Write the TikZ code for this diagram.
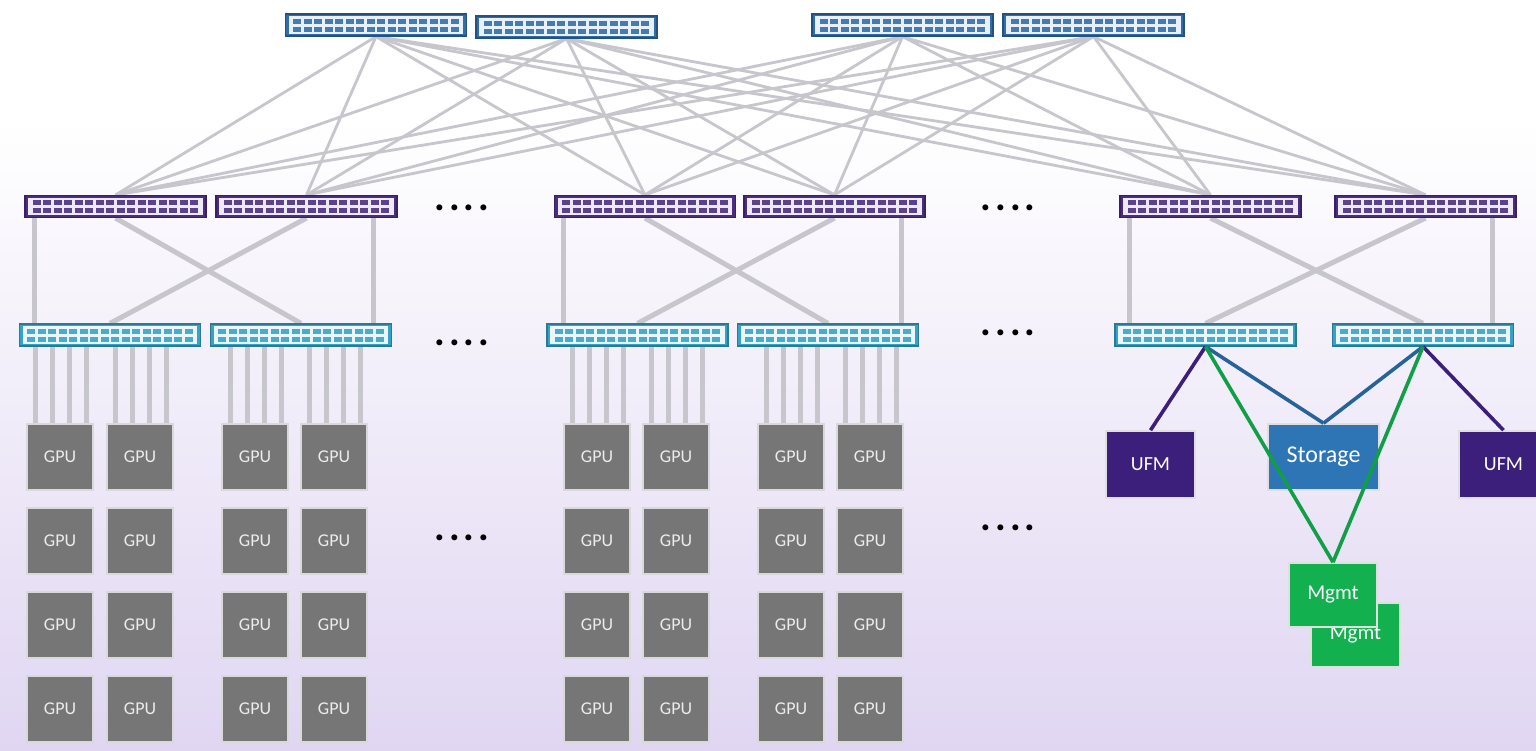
\documentclass[tikz,border=0pt]{standalone}
\usepackage{fontspec}
\setmainfont{Carlito}
\usepackage{tikz}
\usetikzlibrary{calc, positioning}

\definecolor{spineblue}{HTML}{2F6EAA}
\definecolor{aggpurple}{HTML}{4A2C82}
\definecolor{leafcyan}{HTML}{35A3C8}
\definecolor{cablegray}{HTML}{C6C6CC}
\definecolor{gpugray}{HTML}{767676}
\definecolor{ufmpurple}{HTML}{3C1F7A}
\definecolor{storblue}{HTML}{2E75B6}
\definecolor{mgmtgreen}{HTML}{12B04F}
\definecolor{bglav}{HTML}{E0D6F2}

\pgfdeclarelayer{back}
\pgfdeclarelayer{lines}
\pgfsetlayers{back,lines,main}

\tikzset{
    switchbox/.style={rectangle, minimum width=90.5pt, minimum height=11pt, inner sep=0pt, line width=0.6pt},
    gpu/.style={rectangle, fill=gpugray, draw=gray!30, line width=0.9pt, minimum width=33pt, minimum height=33pt,
        inner sep=0pt, text=gray!15, font=\fontsize{9}{9}\selectfont},
    uplink/.style={cablegray, line width=1.4pt},
    downlink/.style={cablegray, line width=2.5pt},
    cable/.style={cablegray, line width=2.4pt},
    hostbox/.style={rectangle, draw=gray!25, line width=0.8pt, inner sep=0pt, text=white},
    hostlink/.style={line width=1.8pt},
    dotrow/.style={inner sep=0pt, font=\fontsize{20}{20}\selectfont\bfseries}
}

% switch with two rows of ports
\newcommand{\netswitch}[4]{%
    \node[switchbox, fill=#4, draw=#4!75!black] (#1) at (#2,#3) {};
    \fill[#4!10!white] ($(#1.north west)+(4,3)$) rectangle ($(#1.south east)+(-4,-3)$);
    \foreach \i in {0,...,15} {
        \fill[#4!90!white] (#2-83+\i*10.5,#3-6.5) rectangle ++(8,5);
        \fill[#4!90!white] (#2-83+\i*10.5,#3+1.5) rectangle ++(8,5);
    }
}
\newcommand{\fourdots}{.\hspace{2pt}.\hspace{2pt}.\hspace{2pt}.}

\begin{document}
\begin{tikzpicture}[x=0.5pt, y=-0.5pt]
    \useasboundingbox (0,0) rectangle (1536,750);
    \begin{pgfonlayer}{back}
        \fill[white] (0,0) rectangle (1536,120);
        \shade[top color=white, bottom color=bglav] (0,120) rectangle (1536,750);
    \end{pgfonlayer}

    % Spine
    \netswitch{sp1}{376}{25}{spineblue}
    \netswitch{sp2}{566.5}{27}{spineblue}
    \netswitch{sp3}{902.5}{25}{spineblue}
    \netswitch{sp4}{1093.5}{25}{spineblue}

    % Aggregation
    \netswitch{ag1}{115.5}{206.5}{aggpurple}
    \netswitch{ag2}{306.5}{206.5}{aggpurple}
    \netswitch{ag3}{645}{206.5}{aggpurple}
    \netswitch{ag4}{834.5}{206.5}{aggpurple}
    \netswitch{ag5}{1210.5}{206.5}{aggpurple}
    \netswitch{ag6}{1425.5}{206.5}{aggpurple}

    % Leaf
    \netswitch{lf1}{110}{335}{leafcyan}
    \netswitch{lf2}{301}{335}{leafcyan}
    \netswitch{lf3}{637.5}{335}{leafcyan}
    \netswitch{lf4}{828}{335}{leafcyan}
    \netswitch{lf5}{1205.5}{335}{leafcyan}
    \netswitch{lf6}{1423}{335}{leafcyan}

    % GPUs
    \foreach \c/\x in {1/60,2/140,3/255,4/334,5/597,6/676,7/791,8/870} {
        \foreach \r/\y in {1/457,2/541,3/625,4/709} {
            \node[gpu] (g\r\c) at (\x,\y) {GPU};
        }
    }

    \begin{pgfonlayer}{lines}
        % spine - aggregation
        \foreach \s in {1,...,4} {
            \foreach \a in {1,...,6} {
                \draw[uplink] (sp\s.south) -- (ag\a.north);
            }
        }
        % aggregation - leaf
        \foreach \p/\q in {1/2,3/4,5/6} {
            \draw[downlink] ([xshift=5pt]ag\p.south west) -- ([xshift=5pt]ag\p.south west |- lf\p.north);
            \draw[downlink] ([xshift=-12pt]ag\q.south east) -- ([xshift=-12pt]ag\q.south east |- lf\q.north);
            \draw[downlink] (ag\p.south) -- (lf\q.north);
            \draw[downlink] (ag\q.south) -- (lf\p.north);
        }
        % leaf - GPU
        \foreach \c/\l in {1/1,2/1,3/2,4/2,5/3,6/3,7/4,8/4} {
            \foreach \k in {4.5,13,21.5,30} {
                \draw[cable] ([xshift=\k pt]g1\c.north west) -- ([xshift=\k pt]g1\c.north west |- lf\l.south);
            }
        }
    \end{pgfonlayer}

    % Hosts
    \node[hostbox, fill=ufmpurple, minimum width=44.5pt, minimum height=33.5pt,
        font=\fontsize{10}{10}\selectfont] (ufm1) at (1150.5,464.5) {UFM};
    \node[hostbox, fill=ufmpurple, minimum width=44.5pt, minimum height=33.5pt,
        font=\fontsize{10}{10}\selectfont] (ufm2) at (1503.5,464.5) {UFM};
    \node[hostbox, fill=storblue, minimum width=55.5pt, minimum height=33pt,
        font=\fontsize{12}{12}\selectfont] (stor) at (1323.5,457) {Storage};
    \node[hostbox, fill=mgmtgreen, minimum width=44.5pt, minimum height=32pt,
        font=\fontsize{10.5}{10.5}\selectfont] (mgmt2) at (1355.5,635) {Mgmt};
    \node[hostbox, fill=mgmtgreen, minimum width=44pt, minimum height=32pt,
        font=\fontsize{10.5}{10.5}\selectfont] (mgmt1) at (1333,595) {Mgmt};

    \draw[hostlink, ufmpurple] (lf5.south) -- (ufm1.north);
    \draw[hostlink, ufmpurple] (lf6.south) -- (ufm2.north);
    \draw[hostlink, storblue!85!black] (lf5.south) -- (stor.north);
    \draw[hostlink, storblue!85!black] (lf6.south) -- (stor.north);
    \draw[hostlink, mgmtgreen!90!black] (lf5.south) -- (mgmt1.north);
    \draw[hostlink, mgmtgreen!90!black] (lf6.south) -- (mgmt1.north);

    % dots
    \node[dotrow] (d1) at (462,208) {\fourdots};
    \node[dotrow] (d2) at (1008,208) {\fourdots};
    \node[dotrow] (d3) at (462,343) {\fourdots};
    \node[dotrow] (d4) at (1008,333) {\fourdots};
    \node[dotrow] (d5) at (462,538) {\fourdots};
    \node[dotrow] (d6) at (1008,528) {\fourdots};
\end{tikzpicture}
\end{document}
